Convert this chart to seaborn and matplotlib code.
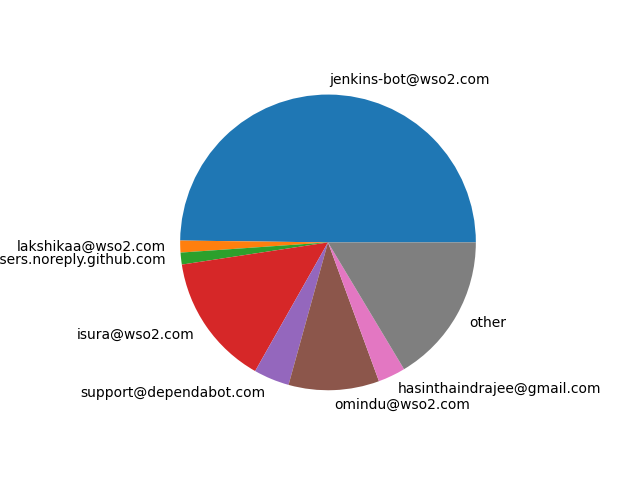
import matplotlib
matplotlib.use("Agg")
import matplotlib.pyplot as plt
import seaborn as sns

# commit share by author email
authors = ["jenkins-bot@wso2.com", "lakshikaa@wso2.com",
           "49699333+dependabot[bot]@users.noreply.github.com",
           "isura@wso2.com", "support@dependabot.com", "omindu@wso2.com",
           "hasinthaindrajee@gmail.com", "other"]
commits = [49.8, 1.3, 1.3, 14.4, 3.9, 9.9, 3.0, 16.4]

colors = sns.color_palette("tab10", len(authors))

fig, ax = plt.subplots(figsize=(6.4, 4.8), dpi=100)
ax.pie(commits, labels=authors, colors=colors)
fig.savefig("out.png")
